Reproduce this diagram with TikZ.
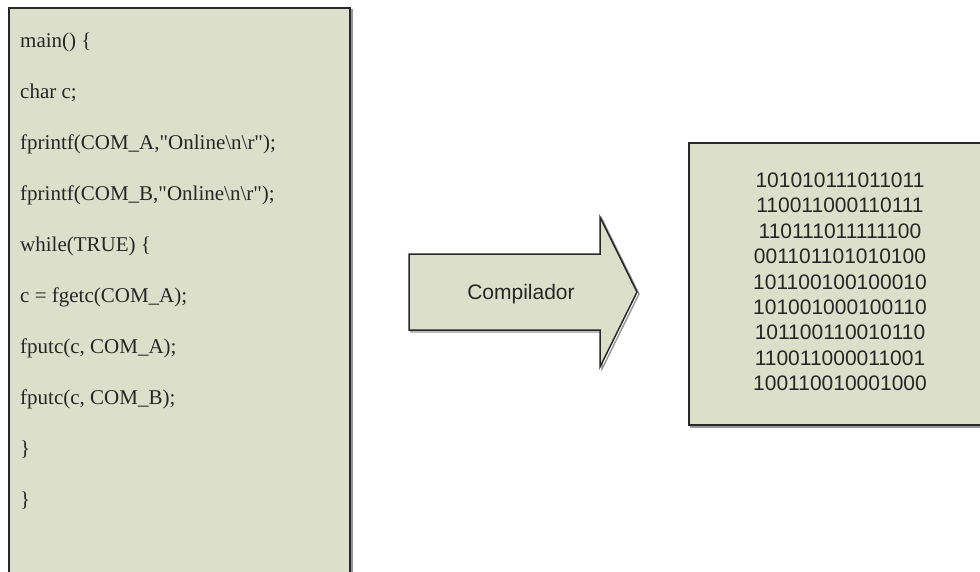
\documentclass[tikz,border=0pt]{standalone}
\usepackage{fontspec}
\setmainfont{Liberation Serif}[Ligatures=TeXOff]
\newfontfamily\arialfont{Liberation Sans}
\definecolor{panel}{RGB}{220,224,202}
\definecolor{ink}{RGB}{38,38,38}
\definecolor{edge}{RGB}{40,40,40}
\definecolor{halo}{RGB}{150,150,150}
\begin{document}
\begin{tikzpicture}[x=1pt,y=-1pt,
  panelshape/.style={fill=panel, draw=edge, line width=1.5pt, line join=miter},
  haloshape/.style={draw=halo, line width=1.4pt, line join=miter},
  codeline/.style={anchor=base west, inner sep=0pt, text=ink,
    font=\fontsize{21}{21}\selectfont},
  bitline/.style={anchor=base, inner sep=0pt, text=ink,
    font=\arialfont\fontsize{21}{21}\selectfont},
  arrowlabel/.style={anchor=base, inner sep=0pt, text=ink,
    font=\arialfont\fontsize{21}{21}\selectfont}]
\useasboundingbox (0,0) rectangle (980,571);
\clip (0,0) rectangle (980,571);

% source-code panel (runs past the lower edge)
\draw[haloshape] (11,590) -- (11,10) -- (352,10) -- (352,590);
\draw[panelshape] (9,590) -- (9,8) -- (350,8) -- (350,590);
\coordinate (src) at (20,47);
\foreach \txt [count=\i from 0] in {
  main() \{,
  char c;,
  {fprintf(COM\_A,"Online\textbackslash n\textbackslash r");},
  {fprintf(COM\_B,"Online\textbackslash n\textbackslash r");},
  while(TRUE) \{,
  c = fgetc(COM\_A);,
  {fputc(c, COM\_A);},
  {fputc(c, COM\_B);},
  \},
  \}}
  \node[codeline] (code\i) at ([yshift=-51.1*\i pt]src) {\txt};

% compiler arrow
\coordinate (a1) at (409,254);
\coordinate (a2) at (600,254);
\coordinate (a3) at (600,217);
\coordinate (a4) at (637,292);
\coordinate (a5) at (600,367);
\coordinate (a6) at (600,330);
\coordinate (a7) at (409,330);
\draw[haloshape] ([shift={(2,2)}]a1) -- ([shift={(2,2)}]a2) -- ([shift={(2,2)}]a3)
  -- ([shift={(2,2)}]a4) -- ([shift={(2,2)}]a5) -- ([shift={(2,2)}]a6)
  -- ([shift={(2,2)}]a7) -- cycle;
\draw[panelshape] (a1) -- (a2) -- (a3) -- (a4) -- (a5) -- (a6) -- (a7) -- cycle;
\node[arrowlabel] (compilador) at (521,299) {Compilador};

% machine-code panel (runs past the right edge)
\draw[haloshape] (1000,145) -- (691,145) -- (691,427) -- (1000,427);
\draw[panelshape] (1000,143) -- (689,143) -- (689,425) -- (1000,425);
\coordinate (bin) at (840,187.5);
\foreach \txt [count=\i from 0] in {
  101010111011011,
  110011000110111,
  110111011111100,
  001101101010100,
  101100100100010,
  101001000100110,
  101100110010110,
  110011000011001,
  100110010001000}
  \node[bitline] (bits\i) at ([yshift=-25.4*\i pt]bin) {\txt};
\end{tikzpicture}
\end{document}
